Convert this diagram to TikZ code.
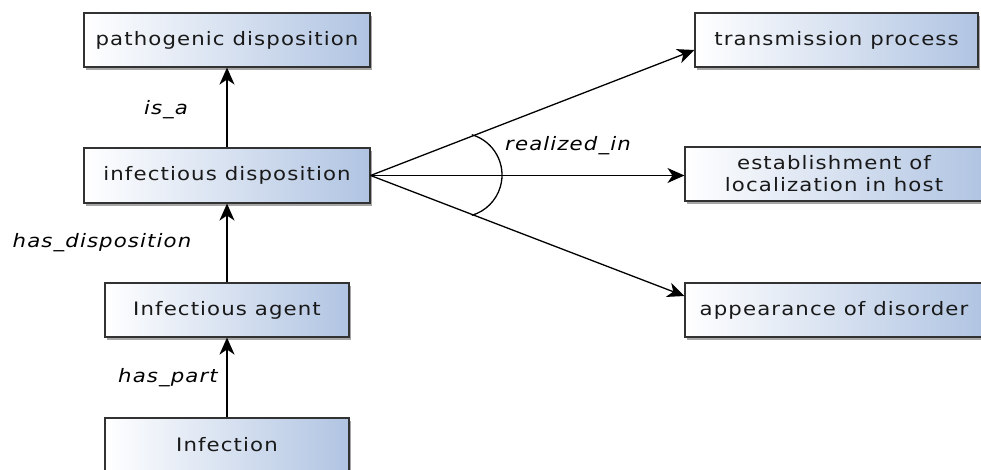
\documentclass[tikz,border=0pt]{standalone}
\usepackage{fontspec}
\setmainfont{DejaVu Sans}[FakeStretch=1.15,LetterSpace=6]
\usetikzlibrary{arrows.meta,shadows,calc}
\definecolor{boxblue}{RGB}{176,196,226}
\definecolor{boxline}{RGB}{50,50,50}
\tikzset{
  box/.style={draw=boxline, line width=1.1pt, left color=white, right color=boxblue,
    shading angle=90, drop shadow={shadow xshift=2pt, shadow yshift=-3pt, opacity=0.35, fill=black},
    font=\fontsize{18.5}{22}\selectfont, align=center, inner sep=0pt, text=black!90},
  rel/.style={font=\fontsize{18.5}{20}\selectfont\itshape},
  conn/.style={line width=1.3pt, -{Stealth[length=17pt,width=15pt,inset=5pt]}},
}
\begin{document}
\begin{tikzpicture}[x=1pt,y=-1pt]
\useasboundingbox (0,0) rectangle (981,470);
\begin{scope}
\clip (0,0) rectangle (981,470);
\node[box, minimum width=286pt, minimum height=54pt] (path) at (227,40) {pathogenic disposition};
\node[box, minimum width=286pt, minimum height=55pt] (idisp) at (227,175.5) {infectious disposition};
\node[box, minimum width=244pt, minimum height=54pt] (agent) at (227,310) {Infectious agent};
\node[box, minimum width=244pt, minimum height=54pt] (inf) at (227,445) {Infection};
\node[box, minimum width=283pt, minimum height=54pt] (trans) at (836.5,40) {transmission process};
\node[box, minimum width=298pt, minimum height=54pt] (estab) at (834,174) {establishment of\\localization in host};
\node[box, minimum width=298pt, minimum height=54pt] (appear) at (834,310) {appearance of disorder};
\end{scope}
\draw[conn] (idisp.north) -- (path.south);
\draw[conn] (agent.north) -- (idisp.south);
\draw[conn] (inf.north) -- (agent.south);
\draw[conn] (idisp.east) -- ([yshift=-10pt]trans.west);
\draw[conn] (idisp.east) -- (estab.west |- idisp.east);
\draw[conn] (idisp.east) -- ([yshift=14pt]appear.west);
\draw[line width=1.3pt] (471.8,134.7) arc[start angle=-73.7, end angle=73.7, radius=42];
\node[rel] (isa) at (166,110) {is\_a};
\node[rel] (hasdisp) at (102,243) {has\_disposition};
\node[rel] (haspart) at (168,378) {has\_part};
\node[rel] (realized) at (568,146) {realized\_in};
\end{tikzpicture}
\end{document}
